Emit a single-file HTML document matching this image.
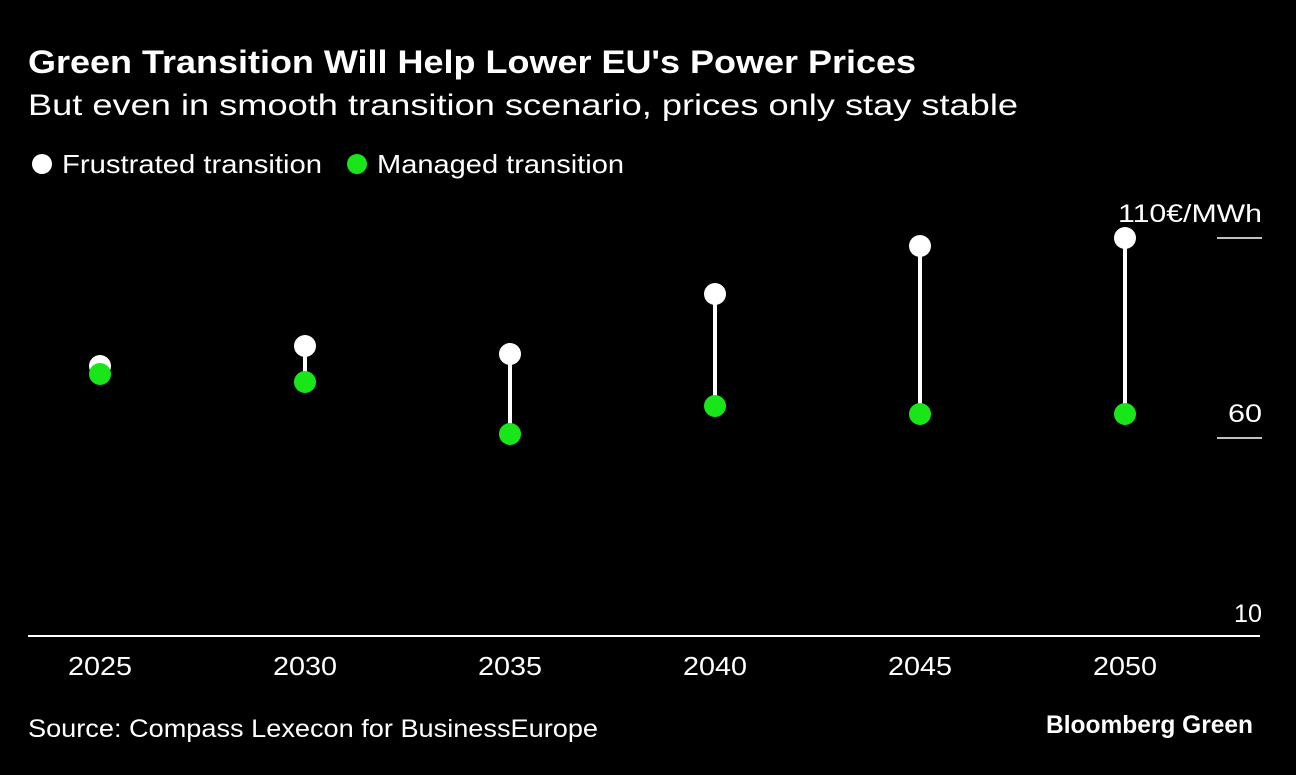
<!DOCTYPE html>
<html><head><meta charset="utf-8"><style>
body{margin:0;background:#000;width:1296px;height:770px;overflow:hidden;font-family:"Liberation Sans",sans-serif;color:#fff}
</style></head><body>
<svg width="1296" height="770" xmlns="http://www.w3.org/2000/svg">
<text x="28" y="73" font-size="32" font-weight="bold" fill="#fff" textLength="888" lengthAdjust="spacingAndGlyphs">Green Transition Will Help Lower EU's Power Prices</text>
<text x="28" y="115" font-size="30" fill="#fff" textLength="990" lengthAdjust="spacingAndGlyphs">But even in smooth transition scenario, prices only stay stable</text>
<circle cx="42" cy="164" r="10" fill="#fff"/>
<text x="62" y="173" font-size="26" fill="#fff" textLength="260" lengthAdjust="spacingAndGlyphs">Frustrated transition</text>
<circle cx="357" cy="164" r="10" fill="#19e619"/>
<text x="377" y="173" font-size="26" fill="#fff" textLength="247" lengthAdjust="spacingAndGlyphs">Managed transition</text>
<g id="plot"></g>
<text x="28" y="737" font-size="25" fill="#fff" textLength="570" lengthAdjust="spacingAndGlyphs">Source: Compass Lexecon for BusinessEurope</text>
<text x="1046" y="733" font-size="25" font-weight="bold" fill="#fff" textLength="207" lengthAdjust="spacingAndGlyphs">Bloomberg Green</text>
</svg>
<script>
const years=["2025","2030","2035","2040","2045","2050"];
const frustrated=[78.0,83.0,81.0,96.0,108.0,110.0];
const managed=[76.0,74.0,61.0,68.0,66.0,66.0];
const ticks=[10,60,110];
const tickLabels=["10","60","110€/MWh"];
const tickWidths=[28,34,144];
const NS="http://www.w3.org/2000/svg";
const g=document.getElementById('plot');
const y=v=>238+(110-v)*4;
const x=i=>100+i*205;
function mk(t,a){const e=document.createElementNS(NS,t);for(const k in a)e.setAttribute(k,a[k]);g.appendChild(e);return e;}
ticks.forEach((t,i)=>{
 if(t!==10){const l=mk('line',{x1:1217,x2:1262,y1:y(t),y2:y(t),stroke:'#fff','stroke-width':1.5});
 
 }
 const tx=mk('text',{x:1262-tickWidths[i],y:y(t)-16,'font-size':25,fill:'#fff',textLength:tickWidths[i],lengthAdjust:'spacingAndGlyphs'});
 tx.textContent=tickLabels[i];
 
 
});
const base=mk('line',{x1:28,x2:1260,y1:636,y2:636,stroke:'#fff','stroke-width':2});


years.forEach((yr,i)=>{
 const t=mk('text',{x:x(i)-32,y:675,'font-size':26,fill:'#fff',textLength:64,lengthAdjust:'spacingAndGlyphs'});
 t.textContent=yr;
 
 
 const l=mk('line',{x1:x(i),x2:x(i),y1:y(frustrated[i]),y2:y(managed[i]),stroke:'#fff','stroke-width':4});
 
 
 const a=mk('circle',{cx:x(i),cy:y(frustrated[i]),r:11,fill:'#fff'});
 
 
 const b=mk('circle',{cx:x(i),cy:y(managed[i]),r:11,fill:'#19e619'});
 
 
});
</script>
</body></html>
